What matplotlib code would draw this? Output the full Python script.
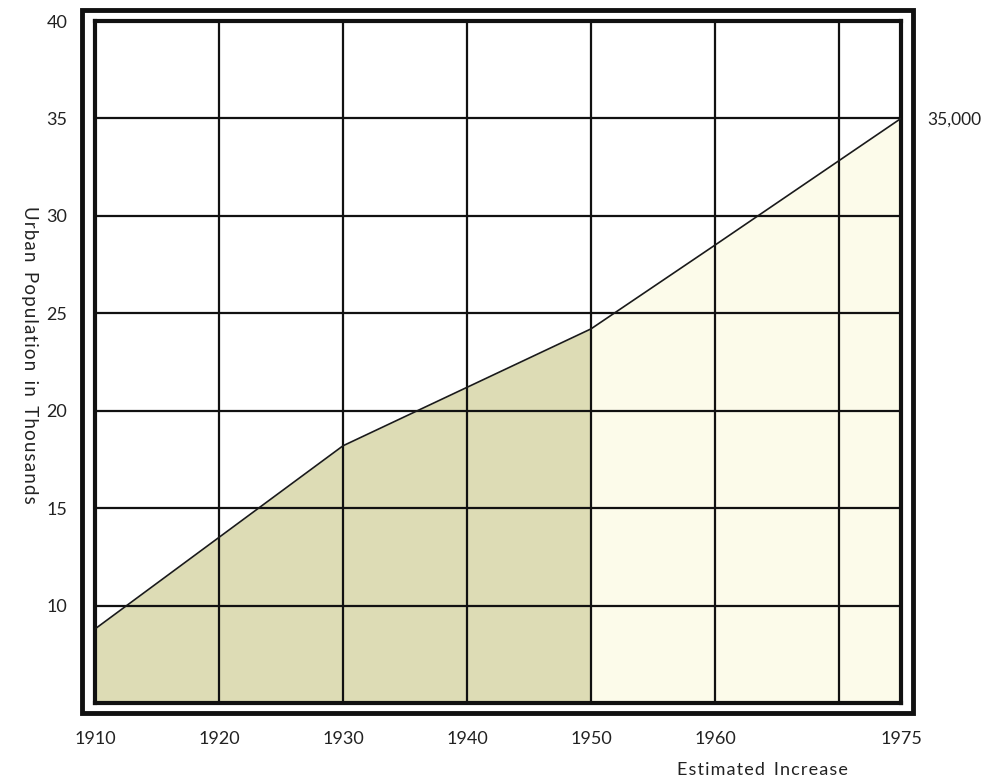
import matplotlib
matplotlib.use('Agg')
import matplotlib.pyplot as plt
from matplotlib.patches import Rectangle

# values (thousands)
years_known = [1910, 1920, 1930, 1940, 1950]
pop_known = [8.8, 13.5, 18.2, 21.2, 24.2]
years_est = [1950, 1960, 1975]
pop_est = [24.2, 28.5, 35.0]

xticks = [1910, 1920, 1930, 1940, 1950, 1960, 1975]
xgrid = [1920, 1930, 1940, 1950, 1960, 1970]
yticks = [10, 15, 20, 25, 30, 35, 40]

plt.rcParams['font.family'] = ['Lato', 'DejaVu Sans']


def spaced(s):
    # loose letter spacing like the printed original
    return '\u200a'.join(s).replace('\u200a \u200a', '\u2002')


fig = plt.figure(figsize=(9.88, 7.82), dpi=100)
ax = fig.add_axes([95/988, 1 - 703/782, (901 - 95)/988, (703 - 21)/782])

ax.fill_between(years_known, pop_known, 5, color='#dddcb5', lw=0, zorder=1)
ax.fill_between(years_est, pop_est, 5, color='#fcfbea', lw=0, zorder=1)
ax.plot(years_known + years_est[1:], pop_known + pop_est[1:], color='#1a1a1a', lw=1.2, zorder=3)

for x in xgrid:
    ax.axvline(x, color='#111111', lw=1.6, zorder=2)
for y in yticks[:-1]:
    ax.axhline(y, color='#111111', lw=1.6, zorder=2)

ax.set_xlim(1910, 1975)
ax.set_ylim(5, 40)
ax.set_xticks(xticks)
ax.set_xticklabels([str(x) for x in xticks])
ax.set_yticks(yticks)
ax.tick_params(length=0, labelsize=13, colors='#222222')
ax.tick_params(axis='y', pad=20)
ax.tick_params(axis='x', pad=20)
for s in ax.spines.values():
    s.set_linewidth(3)
    s.set_color('#111111')

ax.set_ylabel(spaced('Urban Population in Thousands'),
              rotation=270, fontsize=13.5, color='#222222')
ax.yaxis.set_label_coords(-0.092, 0.51)

fig.text(848/988, 1 - 770/782, spaced('Estimated Increase'), ha='right', va='center',
         fontsize=13, color='#222222')
fig.text(927/988, 1 - 120/782, '35,000', ha='left', va='center', fontsize=12.5, color='#222222')

# outer double frame
fig.patches.append(Rectangle((82/988, 1 - 713/782), (913 - 82)/988, (713 - 10)/782,
                             transform=fig.transFigure, fill=False, lw=3.5, ec='#111111'))

fig.savefig('out.png', dpi=100)
